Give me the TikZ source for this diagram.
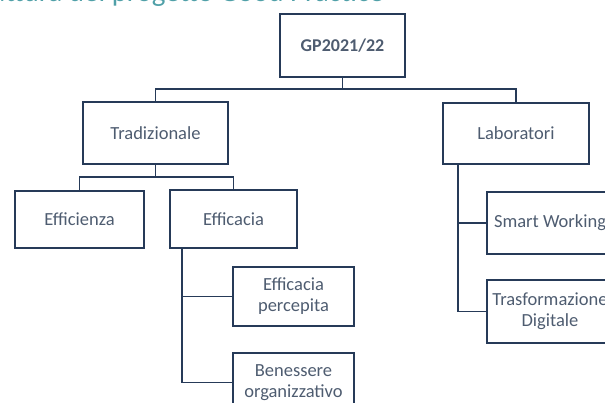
\documentclass[tikz,border=0pt]{standalone}
\usepackage{fontspec}
\setmainfont{Carlito}
\usetikzlibrary{calc}
\definecolor{boxline}{RGB}{38,58,88}
\definecolor{txt}{RGB}{78,92,112}
\definecolor{titlec}{RGB}{80,160,168}
\begin{document}
\begin{tikzpicture}[x=1pt,y=-1pt,
  box/.style={draw=boxline,line width=1.6pt,rectangle,inner sep=0pt,align=center,
    text=txt,font=\fontsize{18.5}{21}\selectfont},
  conn/.style={draw=boxline,line width=1.6pt}]
\useasboundingbox (0,0) rectangle (605,403);
\begin{scope}
\clip (0,0) rectangle (605,403);
\node[anchor=base east,text=titlec,font=\fontsize{29}{32}\selectfont,inner sep=0pt] (title) at (384,2) {Struttura del progetto Good Practice};
\node[box,minimum width=125pt,minimum height=63pt,font=\fontsize{18}{21}\selectfont\bfseries] (gp) at (342.5,45.5) {GP2021/22};
\node[box,minimum width=145pt,minimum height=62pt] (trad) at (155.5,133) {Tradizionale};
\node[box,minimum width=146pt,minimum height=61pt] (lab) at (516,133.5) {Laboratori};
\node[box,minimum width=129pt,minimum height=57pt] (effz) at (79.5,219.5) {Efficienza};
\node[box,minimum width=127pt,minimum height=58pt] (effc) at (233.5,219) {Efficacia};
\node[box,minimum width=121pt,minimum height=59pt] (perc) at (293.5,296.5) {Efficacia\\percepita};
\node[box,minimum width=121pt,minimum height=59pt] (ben) at (293.5,382.5) {Benessere\\organizzativo};
\node[box,minimum width=126pt,minimum height=62pt] (smart) at (550,223) {Smart Working};
\node[box,minimum width=126pt,minimum height=63pt] (trasf) at (550,311.5) {Trasformazione\\Digitale};
\coordinate (j1) at (342.5,89);
\coordinate (j2) at (155.5,177);
\coordinate (e0) at (182,248);
\coordinate (l0) at (458,164);
\draw[conn] (gp.south) -- (j1);
\draw[conn] (trad.north) |- (j1) -| (lab.north);
\draw[conn] (trad.south) -- (j2);
\draw[conn] (effz.north) |- (j2) -| (effc.north);
\draw[conn] (e0) |- (ben.west);
\draw[conn] (e0 |- perc.west) -- (perc.west);
\draw[conn] (l0) |- (trasf.west);
\draw[conn] (l0 |- smart.west) -- (smart.west);
\end{scope}
\end{tikzpicture}
\end{document}
